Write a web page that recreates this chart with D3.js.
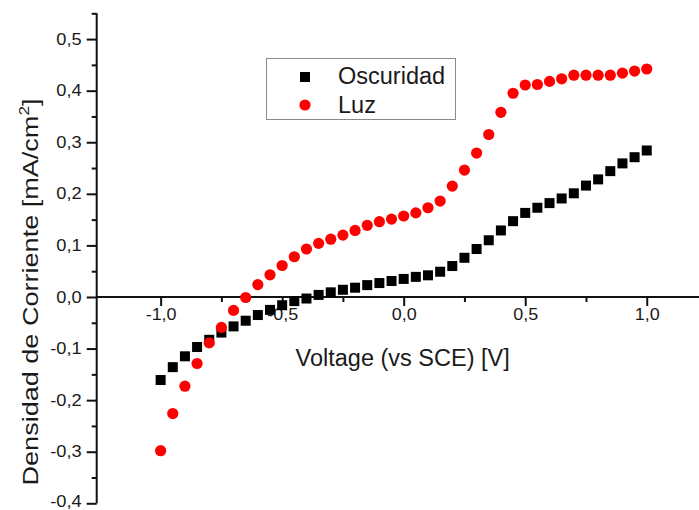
<!DOCTYPE html>
<html>
<head>
<meta charset="utf-8">
<script src="https://cdn.jsdelivr.net/npm/d3@7"></script>
<style>
  html, body { margin: 0; padding: 0; background: #fff; }
  svg { display: block; }
  text { font-family: "Liberation Sans", Arial, sans-serif; fill: #1a1a1a; }
</style>
</head>
<body>
<svg id="chart" width="699" height="510"></svg>
<script>
// ---- data ----
const voltage = [-1.0, -0.95, -0.9, -0.85, -0.8, -0.75, -0.7, -0.65, -0.6, -0.55,
  -0.5, -0.45, -0.4, -0.35, -0.3, -0.25, -0.2, -0.15, -0.1, -0.05,
  0.0, 0.05, 0.1, 0.15, 0.2, 0.25, 0.3, 0.35, 0.4, 0.45,
  0.5, 0.55, 0.6, 0.65, 0.7, 0.75, 0.8, 0.85, 0.9, 0.95, 1.0];
const oscuridad = [-0.161, -0.136, -0.115, -0.097, -0.083, -0.069, -0.057, -0.046, -0.035, -0.025,
  -0.016, -0.008, -0.003, 0.004, 0.009, 0.014, 0.018, 0.023, 0.027, 0.031,
  0.035, 0.039, 0.042, 0.049, 0.060, 0.076, 0.093, 0.110, 0.129, 0.147,
  0.163, 0.173, 0.182, 0.191, 0.201, 0.216, 0.228, 0.244, 0.259, 0.271, 0.284];
const luz = [-0.298, -0.226, -0.173, -0.129, -0.089, -0.059, -0.026, -0.001, 0.024, 0.043,
  0.061, 0.078, 0.093, 0.104, 0.112, 0.120, 0.129, 0.139, 0.146, 0.151,
  0.157, 0.163, 0.173, 0.186, 0.215, 0.246, 0.279, 0.315, 0.358, 0.395,
  0.411, 0.412, 0.418, 0.423, 0.430, 0.430, 0.430, 0.430, 0.434, 0.438, 0.442];
const xMajorTicks = [-1.0, -0.5, 0.0, 0.5, 1.0];
const xMinorTicks = [-0.75, -0.25, 0.25, 0.75];
const yMajorTicks = [-0.4, -0.3, -0.2, -0.1, 0.0, 0.1, 0.2, 0.3, 0.4, 0.5];
const yMinorTicks = [-0.35, -0.25, -0.15, -0.05, 0.05, 0.15, 0.25, 0.35, 0.45, 0.55];
const seriesNames = ["Oscuridad", "Luz"];
const xTitle = "Voltage (vs SCE) [V]";
const yTitle = "Densidad de Corriente [mA/cm";

// ---- layout ----
const svg = d3.select("#chart");
const x = d3.scaleLinear().domain([-1.263, 1.215]).range([96.7, 699]);
const y = d3.scaleLinear().domain([-0.4, 0.55]).range([503.3, 13.3]);
const fmt = v => d3.format(".1f")(v).replace(".", ",").replace("−", "-");
function widen(sel, f) {
  sel.each(function () {
    const L = this.getComputedTextLength();
    d3.select(this).attr("textLength", L * f).attr("lengthAdjust", "spacingAndGlyphs");
  });
}

// y axis (left) with outward ticks
const yAxis = d3.axisLeft(y).tickValues(yMajorTicks).tickSize(10).tickPadding(5).tickFormat(fmt);
const gy = svg.append("g").attr("transform", `translate(${x(-1.263)},0)`).call(yAxis);
gy.select(".domain").attr("stroke", "#111").attr("stroke-width", 2).attr("d", `M0,${y(-0.4)}V${y(0.55)}`);
gy.selectAll(".tick line").attr("stroke", "#111").attr("stroke-width", 2);
gy.selectAll(".tick text").style("font-size", "16px").attr("fill", "#1a1a1a");
gy.selectAll(".tick text").filter(d => d === -0.4).attr("dy", "0.2em");
widen(gy.selectAll(".tick text"), 1.14);
const gyMinor = svg.append("g").attr("transform", `translate(${x(-1.263)},0)`)
  .call(d3.axisLeft(y).tickValues(yMinorTicks).tickSize(5).tickFormat(""));
gyMinor.select(".domain").remove();
gyMinor.selectAll(".tick line").attr("stroke", "#111").attr("stroke-width", 2);

// x axis at y = 0, ticks downward
const xAxis = d3.axisBottom(x).tickValues(xMajorTicks).tickSize(9).tickPadding(3).tickFormat(fmt);
const gx = svg.append("g").attr("transform", `translate(0,${y(0)})`).call(xAxis);
gx.select(".domain").attr("stroke", "#111").attr("stroke-width", 2).attr("d", `M${x(-1.263)},0H${x(1.215)}`);
gx.selectAll(".tick line").attr("stroke", "#111").attr("stroke-width", 2);
gx.selectAll(".tick text").style("font-size", "16px").attr("fill", "#1a1a1a");
widen(gx.selectAll(".tick text"), 1.12);
const gxMinor = svg.append("g").attr("transform", `translate(0,${y(0)})`)
  .call(d3.axisBottom(x).tickValues(xMinorTicks).tickSize(5).tickFormat(""));
gxMinor.select(".domain").remove();
gxMinor.selectAll(".tick line").attr("stroke", "#111").attr("stroke-width", 2);

// axis titles
svg.append("text").attr("x", x(0) - 1).attr("y", 366).attr("text-anchor", "middle")
  .style("font-size", "23.5px").text(xTitle);
const yt = svg.append("text").attr("transform", `translate(38,${292}) rotate(-90) scale(1.23,1)`)
  .attr("text-anchor", "middle").style("font-size", "22px");
yt.append("tspan").text(yTitle);
yt.append("tspan").attr("dy", -9).style("font-size", "14px").text("2");
yt.append("tspan").attr("dy", 9).text("]");

// data
const sq = 10;
svg.append("g").selectAll("rect").data(voltage).join("rect")
  .attr("x", (d) => x(d) - sq / 2)
  .attr("y", (d, i) => y(oscuridad[i]) - sq / 2)
  .attr("width", sq).attr("height", sq).attr("fill", "#000");
svg.append("g").selectAll("circle").data(voltage).join("circle")
  .attr("cx", d => x(d))
  .attr("cy", (d, i) => y(luz[i]))
  .attr("r", 5.6).attr("fill", "#f00");

// legend
const lg = svg.append("g");
lg.append("rect").attr("x", 266.5).attr("y", 58.5).attr("width", 189).attr("height", 61)
  .attr("fill", "#fff").attr("stroke", "#8a8a8a").attr("stroke-width", 1);
lg.append("rect").attr("x", 305 - sq / 2).attr("y", 77 - sq / 2).attr("width", sq).attr("height", sq).attr("fill", "#000");
lg.append("circle").attr("cx", 305).attr("cy", 105).attr("r", 5.6).attr("fill", "#f00");
lg.append("text").attr("x", 338).attr("y", 84).style("font-size", "23.5px").text(seriesNames[0]);
lg.append("text").attr("x", 338).attr("y", 113).style("font-size", "23.5px").text(seriesNames[1]);
</script>
</body>
</html>
